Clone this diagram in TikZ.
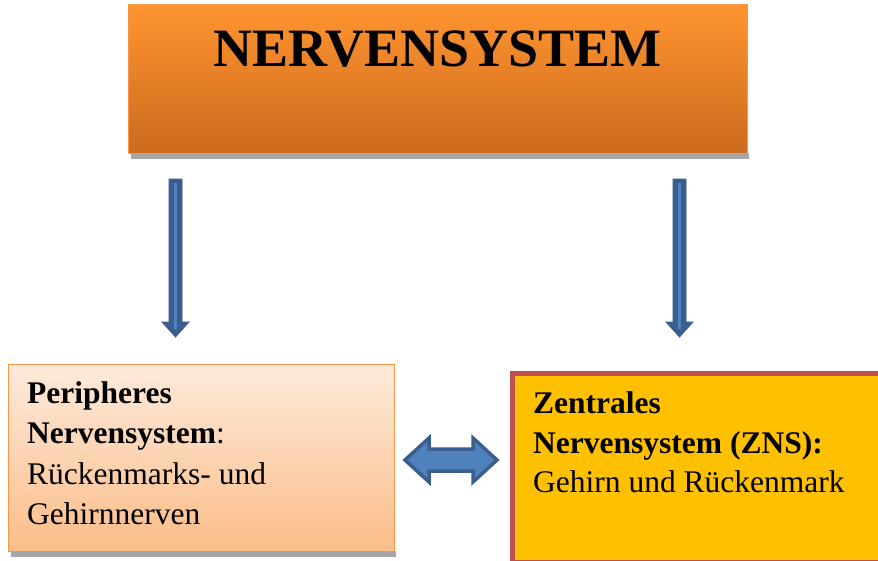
\documentclass[tikz,border=0pt]{standalone}
\usepackage{fontspec}
\setmainfont{Liberation Serif}
\definecolor{arrowfill}{HTML}{4F81BD}
\definecolor{arrowdark}{HTML}{3A5F8E}
\definecolor{topA}{HTML}{FF9530}
\definecolor{topB}{HTML}{CC6A1E}
\definecolor{topline}{HTML}{F79646}
\definecolor{leftA}{HTML}{FDEADB}
\definecolor{leftB}{HTML}{FBBD88}
\definecolor{zfill}{HTML}{FFC000}
\definecolor{zline}{HTML}{C0504D}
\definecolor{shadowgray}{HTML}{A6A6A6}
\tikzset{
  boxtext/.style={anchor=base west, inner sep=0pt, font=\fontsize{31.5}{38}\selectfont},
  downarrow/.style={fill=arrowdark, draw=arrowdark, line width=0.8pt, line join=miter},
  innerline/.style={draw=arrowfill, line width=2.6pt},
}
\begin{document}
\begin{tikzpicture}[x=1pt,y=-1pt]
\useasboundingbox (0,0) rectangle (878,560);
\fill[white] (0,0) rectangle (878,560);
% top box
\fill[shadowgray] (131,153) rectangle (749,159);
\node[draw=topline, line width=1pt, top color=topA, bottom color=topB, shading angle=0,
      minimum width=619pt, minimum height=149pt, inner sep=0pt, anchor=north west] (top) at (128,4) {};
\node[anchor=base, inner sep=0pt, font=\fontsize{54}{60}\selectfont\bfseries] (title) at (437.5,66) {NERVENSYSTEM};
% left box
\fill[shadowgray] (11,551) rectangle (396,557);
\node[draw=topline, line width=1.2pt, top color=leftA, bottom color=leftB,
      minimum width=386pt, minimum height=187pt, inner sep=0pt, anchor=north west] (pns) at (8,364) {};
\node[boxtext] (p1) at (27,403) {\bfseries Peripheres};
\node[boxtext] (p2) at (27,443) {\textbf{Nervensystem}:};
\node[boxtext] (p3) at (27,484) {Rückenmarks- und};
\node[boxtext] (p4) at (27,524) {Gehirnnerven};
% right box
\node[draw=zline, line width=5pt, fill=zfill,
      minimum width=370pt, minimum height=189pt, inner sep=0pt, anchor=north west] (zns) at (509.5,370.5) {};
\node[boxtext] (z1) at (533,413) {\bfseries Zentrales};
\node[boxtext] (z2) at (533,453) {\bfseries Nervensystem (ZNS):};
\node[boxtext] (z3) at (533,492) {Gehirn und Rückenmark};
% down arrows
\coordinate (la) at (175.5,179);
\coordinate (ra) at (679.5,179);
\foreach \c in {la,ra}{
  \draw[downarrow] ([xshift=-6.5pt]\c) -- ([xshift=6.5pt]\c) -- ([xshift=6.5pt,yshift=-143pt]\c)
     -- ([xshift=13.5pt,yshift=-143pt]\c) -- ([yshift=-158pt]\c) -- ([xshift=-13.5pt,yshift=-143pt]\c)
     -- ([xshift=-6.5pt,yshift=-143pt]\c) -- cycle;
  \draw[innerline] ([yshift=-4pt]\c) -- ([yshift=-150pt]\c);
}
% double arrow
\coordinate (dl) at (405,460);
\coordinate (dr) at (497,460);
\draw[fill=arrowfill, draw=arrowdark, line width=3.5pt, line join=miter]
  (dl) -- ([xshift=24pt,yshift=-22pt]dl) -- ([xshift=24pt,yshift=-11pt]dl)
  -- ([xshift=-24pt,yshift=-11pt]dr) -- ([xshift=-24pt,yshift=-22pt]dr) -- (dr)
  -- ([xshift=-24pt,yshift=22pt]dr) -- ([xshift=-24pt,yshift=11pt]dr)
  -- ([xshift=24pt,yshift=11pt]dl) -- ([xshift=24pt,yshift=22pt]dl) -- cycle;
\end{tikzpicture}
\end{document}
